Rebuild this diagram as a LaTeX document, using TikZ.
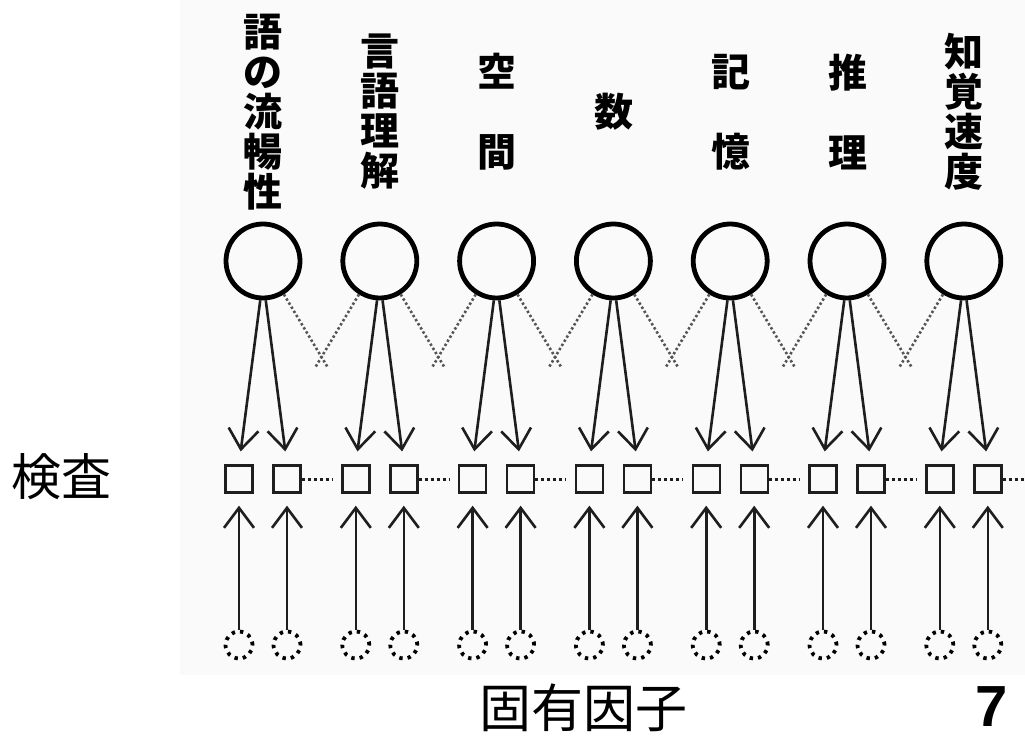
\documentclass[tikz,border=0pt]{standalone}
\usepackage{fontspec}
\setmainfont{Liberation Sans}
\newfontfamily\jp{Noto Sans CJK JP}
\usetikzlibrary{arrows.meta,calc}
\definecolor{scanbg}{RGB}{250,250,250}
\definecolor{ink}{RGB}{30,30,30}
\definecolor{dotgray}{RGB}{85,85,85}
\begin{document}
\begin{tikzpicture}[x=1pt,y=-1pt,
  bigc/.style={circle,draw=black,line width=4.8pt,minimum size=74pt,inner sep=0pt},
  sq/.style={rectangle,draw=ink,line width=2.4pt,minimum size=27pt,inner sep=0pt},
  dc/.style={circle,draw=black,line width=3.8pt,minimum size=27pt,inner sep=0pt,dash pattern=on 3.4pt off 5pt},
  arr/.style={draw=ink,line width=2.6pt,-{Straight Barb[length=20pt,width=30pt,line width=2.6pt]}},
  xline/.style={draw=dotgray,line width=2.6pt,dash pattern=on 2.4pt off 2.4pt},
  sqdots/.style={draw=ink,line width=3pt,dash pattern=on 3pt off 3pt},
  lab/.style={font=\jp\bfseries\fontsize{39}{40}\selectfont,align=center,inner sep=0pt},
  side/.style={font=\jp\fontsize{50}{50}\selectfont,inner sep=0pt}]
\useasboundingbox (0,0) rectangle (1025,738);
\fill[scanbg] (180,0) rectangle (1025,675);
% factor labels
\node[lab] (T1) at (263,112) {語\\の\\流\\暢\\性};
\node[lab] (T2) at (380,112) {言\\語\\理\\解};
\node[lab] (T3) at (497,112) {空\\[40pt]間};
\node[lab] (T4) at (614,112) {数};
\node[lab] (T5) at (731,112) {記\\[40pt]憶};
\node[lab] (T6) at (848,112) {推\\[40pt]理};
\node[lab] (T7) at (964,112) {知\\覚\\速\\度};
% nodes and arrows
\foreach \i in {1,...,7} {
  \pgfmathsetmacro\cx{263+116.8*(\i-1)}
  \node[bigc] (C\i) at (\cx,261) {};
  \node[sq] (Sa\i) at (\cx-24,479) {};
  \node[sq] (Sb\i) at (\cx+24,479) {};
  \node[dc] (Da\i) at (\cx-24,645) {};
  \node[dc] (Db\i) at (\cx+24,645) {};
  \draw[arr,shorten >=13pt] (C\i.-94) -- (Sa\i.north);
  \draw[arr,shorten >=13pt] (C\i.-86) -- (Sb\i.north);
  \draw[arr,shorten >=12pt] (Da\i.north) -- (Sa\i.south);
  \draw[arr,shorten >=12pt] (Db\i.north) -- (Sb\i.south);
  \coordinate (E\i) at (\cx+24+14+31,479);
  \draw[sqdots] (Sb\i.east) -- (E\i);
}
\foreach \i [evaluate=\i as \j using int(\i+1)] in {1,...,6} {
  \pgfmathsetmacro\cx{263+116.8*(\i-1)}
  \coordinate (Xa\i) at (\cx+64.5,367);
  \coordinate (Xb\i) at (\cx+52.5,367);
  \draw[xline] (C\i.-58) -- (Xa\i);
  \draw[xline] (C\j.-122) -- (Xb\i);
}
% side texts
\node[side] (K) at (62,477) {検査};
\node[side,font=\jp\fontsize{52}{52}\selectfont] (U) at (583,708) {固有因子};
\node[inner sep=0pt,font=\bfseries\fontsize{58}{58}\selectfont] (N) at (992,707) {7};
\end{tikzpicture}
\end{document}
